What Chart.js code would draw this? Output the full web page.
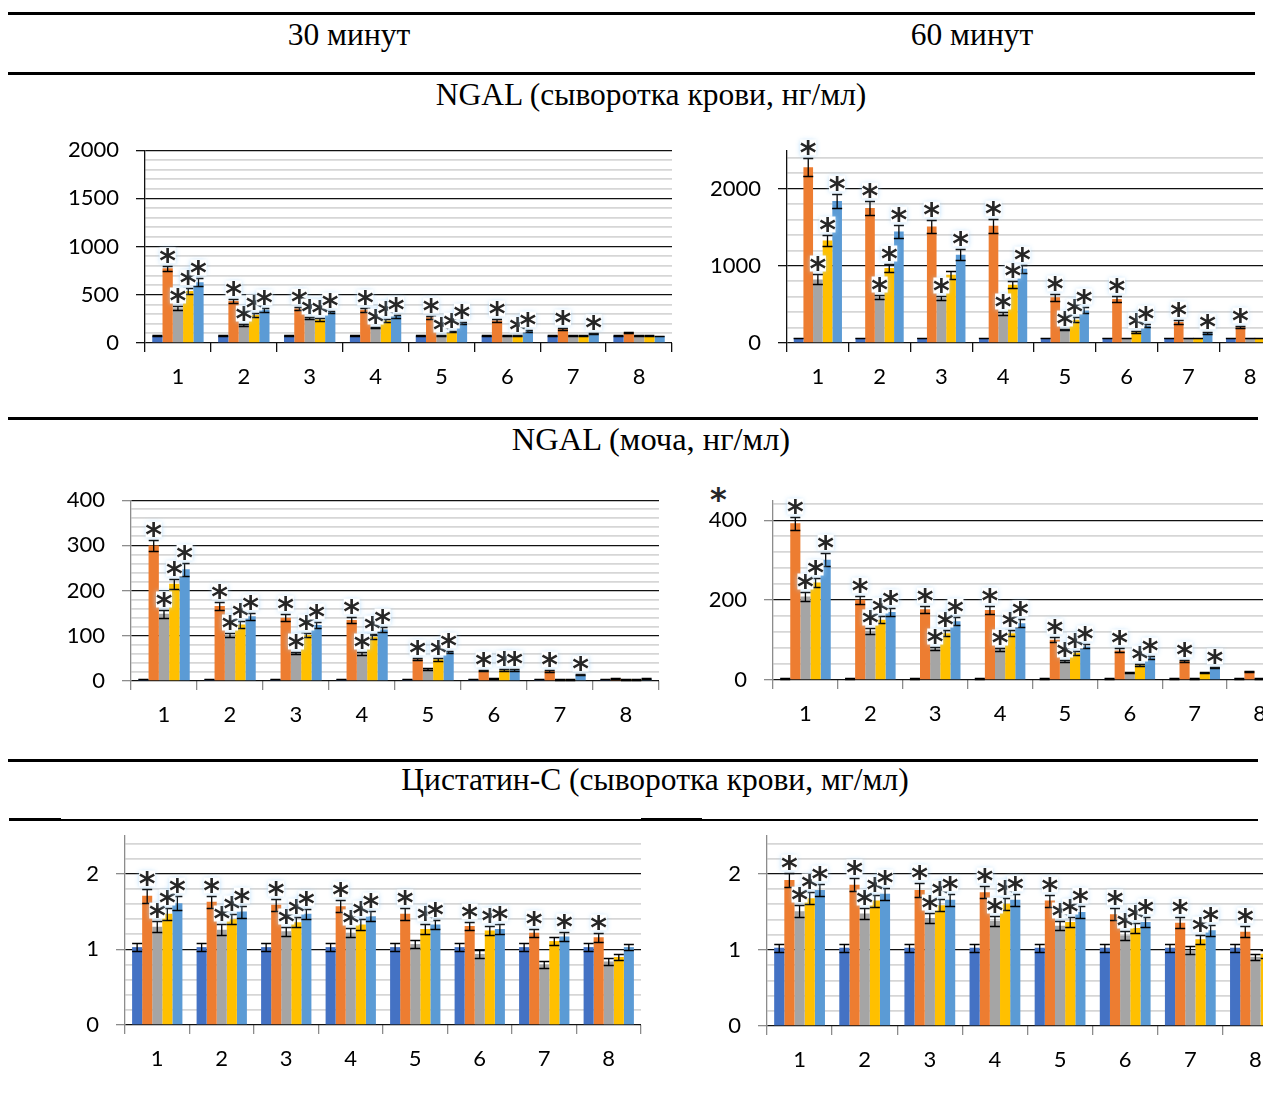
<!DOCTYPE html>
<html>
<head>
<meta charset="utf-8">
<script src="https://cdn.jsdelivr.net/npm/chart.js@4/dist/chart.umd.min.js"></script>
<style>
  body { margin: 0; width: 1263px; height: 1097px; overflow: hidden; background: #fff; position: relative; font-family: 'Liberation Serif', serif; }
  .hl { position: absolute; background: #000; }
  .ttl { position: absolute; font-size: 31.5px; line-height: 1; white-space: nowrap; transform: translate(-50%, -50%); color: #000; }
  canvas { position: absolute; }
  .star { position: absolute; font: bold 32px 'DejaVu Sans'; color: #262626; }
</style>
</head>
<body>
<div class="hl" style="left:8px;top:12px;width:1247px;height:3px"></div>
<div class="hl" style="left:8px;top:72px;width:1247px;height:3px"></div>
<div class="hl" style="left:8px;top:417px;width:1250px;height:3px"></div>
<div class="hl" style="left:8px;top:759px;width:1250px;height:3px"></div>
<div class="hl" style="left:9px;top:818px;width:52px;height:3px"></div>
<div class="hl" style="left:61px;top:819px;width:580px;height:2px"></div>
<div class="hl" style="left:641px;top:818px;width:61px;height:3px"></div>
<div class="hl" style="left:702px;top:819px;width:556px;height:2px"></div>

<div class="ttl" style="left:349px;top:35px">30 минут</div>
<div class="ttl" style="left:972px;top:35px">60 минут</div>
<div class="ttl" style="left:651px;top:95px">NGAL (сыворотка крови, нг/мл)</div>
<div class="ttl" style="left:651px;top:439px;font-size:32.5px">NGAL (моча, нг/мл)</div>
<div class="ttl" style="left:655px;top:780px">Цистатин-С (сыворотка крови, мг/мл)</div>
<div class="star" style="left:710px;top:480px">*</div>

<canvas id="c1"></canvas>
<canvas id="c2"></canvas>
<canvas id="c3"></canvas>
<canvas id="c4"></canvas>
<canvas id="c5"></canvas>
<canvas id="c6"></canvas>

<script>
const categories = ['1', '2', '3', '4', '5', '6', '7', '8'];

// NGAL, serum, 30 min (ng/ml) — one row per series
const ngalSerum30 = [
  [75, 75, 75, 75, 75, 75, 75, 75],
  [775, 435, 358, 345, 268, 234, 148, 108],
  [360, 186, 258, 159, 82, 78, 76, 74],
  [540, 290, 245, 234, 121, 76, 76, 78],
  [630, 345, 322, 279, 212, 125, 100, 72]
];
const ngalSerum30Err = [
  [6, 6, 6, 6, 6, 6, 6, 6],
  [25, 22, 12, 20, 15, 12, 8, 6],
  [22, 8, 12, 8, 6, 5, 5, 4],
  [30, 18, 18, 12, 8, 5, 5, 4],
  [40, 20, 15, 15, 10, 8, 6, 4]
];
const ngalSerum30Stars = [
  [0, 0, 0, 0, 0, 0, 0, 0],
  [1, 1, 1, 1, 1, 1, 1, 0],
  [1, 1, 1, 1, 1, 0, 0, 0],
  [1, 1, 1, 1, 1, 1, 0, 0],
  [1, 1, 1, 1, 1, 1, 1, 0]
];

// NGAL, serum, 60 min
const ngalSerum60 = [
  [65, 65, 65, 65, 65, 65, 65, 65],
  [2280, 1750, 1510, 1520, 592, 570, 272, 203],
  [825, 596, 583, 380, 177, 65, 65, 65],
  [1330, 972, 886, 756, 302, 138, 65, 65],
  [1840, 1447, 1145, 963, 423, 225, 130, 65]
];
const ngalSerum60Err = [
  [5, 5, 5, 5, 5, 5, 5, 5],
  [117, 90, 85, 90, 45, 40, 20, 12],
  [65, 30, 30, 20, 10, 5, 5, 5],
  [70, 50, 50, 45, 30, 12, 5, 5],
  [95, 80, 70, 50, 40, 15, 10, 5]
];
const ngalSerum60Stars = [
  [0, 0, 0, 0, 0, 0, 0, 0],
  [1, 1, 1, 1, 1, 1, 1, 1],
  [1, 1, 1, 1, 1, 0, 0, 0],
  [1, 1, 0, 1, 1, 1, 0, 0],
  [1, 1, 1, 1, 1, 1, 1, 0]
];

// NGAL, urine, 30 min
const ngalUrine30 = [
  [4, 4, 4, 4, 4, 4, 4, 4],
  [300, 166, 140, 135, 48, 23, 22, 6],
  [149, 102, 62, 61, 27, 6, 4, 4],
  [215, 125, 102, 98, 48, 24, 4, 4],
  [247, 143, 124, 114, 64, 24, 14, 5]
];
const ngalUrine30Err = [
  [0.5, 0.5, 0.5, 0.5, 0.5, 0.5, 0.5, 0.5],
  [13, 9, 8, 6, 2, 1.5, 1.5, 1],
  [9, 5, 3, 3, 2, 1, 1, 1],
  [11, 7, 5, 5, 3, 1.5, 1, 1],
  [14, 8, 7, 6, 3, 1.5, 1.5, 1]
];
const ngalUrine30Stars = [
  [0, 0, 0, 0, 0, 0, 0, 0],
  [1, 1, 1, 1, 1, 1, 1, 0],
  [1, 1, 1, 1, 0, 0, 0, 0],
  [1, 1, 1, 1, 1, 1, 0, 0],
  [1, 1, 1, 1, 1, 1, 1, 0]
];

// NGAL, urine, 60 min
const ngalUrine60 = [
  [4, 4, 4, 4, 4, 4, 4, 4],
  [392, 201, 177, 175, 101, 74, 48, 22],
  [209, 123, 78, 77, 47, 19, 4, 4],
  [244, 151, 117, 117, 68, 37, 18, 4],
  [301, 170, 147, 142, 84, 56, 31, 4]
];
const ngalUrine60Err = [
  [0.5, 0.5, 0.5, 0.5, 0.5, 0.5, 0.5, 0.5],
  [17, 10, 9, 10, 6, 5, 2, 1.5],
  [12, 8, 4, 4, 2, 1.5, 1, 1],
  [11, 9, 8, 8, 5, 2, 1.5, 1],
  [16, 10, 10, 10, 5, 3, 2, 1]
];
const ngalUrine60Stars = [
  [0, 0, 0, 0, 0, 0, 0, 0],
  [1, 1, 1, 1, 1, 1, 1, 0],
  [1, 1, 1, 1, 1, 0, 0, 0],
  [1, 1, 1, 1, 1, 1, 0, 0],
  [1, 1, 1, 1, 1, 1, 1, 0]
];

// Cystatin C, serum, 30 min (mg/ml)
const cysSerum30 = [
  [1.03, 1.03, 1.03, 1.03, 1.03, 1.03, 1.03, 1.03],
  [1.71, 1.63, 1.59, 1.57, 1.47, 1.31, 1.22, 1.16],
  [1.30, 1.26, 1.24, 1.22, 1.07, 0.94, 0.80, 0.84],
  [1.47, 1.40, 1.36, 1.33, 1.27, 1.25, 1.11, 0.90],
  [1.61, 1.50, 1.47, 1.44, 1.33, 1.27, 1.17, 1.03]
];
const cysSerum30Err = [
  [0.05, 0.05, 0.05, 0.05, 0.05, 0.05, 0.05, 0.05],
  [0.09, 0.08, 0.08, 0.08, 0.08, 0.05, 0.05, 0.06],
  [0.07, 0.07, 0.06, 0.06, 0.05, 0.05, 0.04, 0.04],
  [0.08, 0.07, 0.07, 0.07, 0.06, 0.06, 0.05, 0.04],
  [0.09, 0.08, 0.07, 0.07, 0.06, 0.06, 0.06, 0.04]
];
const cysSerum30Stars = [
  [0, 0, 0, 0, 0, 0, 0, 0],
  [1, 1, 1, 1, 1, 1, 1, 1],
  [1, 1, 1, 1, 0, 0, 0, 0],
  [1, 1, 1, 1, 1, 1, 0, 0],
  [1, 1, 1, 1, 1, 1, 1, 0]
];

// Cystatin C, serum, 60 min
const cysSerum60 = [
  [1.03, 1.03, 1.03, 1.03, 1.03, 1.03, 1.03, 1.03],
  [1.92, 1.86, 1.79, 1.76, 1.65, 1.47, 1.36, 1.24],
  [1.51, 1.48, 1.42, 1.38, 1.32, 1.19, 1.00, 0.91],
  [1.68, 1.65, 1.59, 1.61, 1.37, 1.29, 1.14, 0.95],
  [1.79, 1.74, 1.66, 1.66, 1.50, 1.37, 1.26, 1.05]
];
const cysSerum60Err = [
  [0.05, 0.05, 0.05, 0.05, 0.05, 0.05, 0.05, 0.05],
  [0.09, 0.09, 0.09, 0.08, 0.08, 0.08, 0.07, 0.07],
  [0.08, 0.07, 0.07, 0.07, 0.06, 0.06, 0.05, 0.04],
  [0.08, 0.08, 0.08, 0.08, 0.07, 0.07, 0.06, 0.05],
  [0.08, 0.08, 0.08, 0.08, 0.08, 0.07, 0.07, 0.05]
];
const cysSerum60Stars = [
  [0, 0, 0, 0, 0, 0, 0, 0],
  [1, 1, 1, 1, 1, 1, 1, 1],
  [1, 1, 1, 1, 1, 1, 0, 0],
  [1, 1, 1, 1, 1, 1, 1, 0],
  [1, 1, 1, 1, 1, 1, 1, 0]
];

const seriesColors = ['#4472C4', '#ED7D31', '#A5A5A5', '#FFC000', '#5B9BD5'];
const tickFont = { family: 'Lato', size: 22 };

// draws the I-shaped error bars and the significance asterisks
const errorBars = {
  id: 'errorBars',
  afterDatasetsDraw(chart) {
    const ctx = chart.ctx;
    const y = chart.scales.y;
    const marks = [];
    ctx.save();
    ctx.strokeStyle = '#000';
    ctx.lineWidth = 1.3;
    chart.data.datasets.forEach((ds, i) => {
      chart.getDatasetMeta(i).data.forEach((bar, j) => {
        const v = ds.data[j], e = ds.err[j];
        const top = Math.round(y.getPixelForValue(v + e)) + 0.5;
        const bot = Math.round(y.getPixelForValue(Math.max(0, v - e))) + 0.5;
        const hw = 5;
        ctx.beginPath();
        ctx.moveTo(bar.x, top); ctx.lineTo(bar.x, bot);
        ctx.moveTo(bar.x - hw, top); ctx.lineTo(bar.x + hw, top);
        ctx.moveTo(bar.x - hw, bot); ctx.lineTo(bar.x + hw, bot);
        ctx.stroke();
        if (ds.stars[j]) marks.push([bar.x, top]);
      });
    });
    ctx.font = 'bold 32px "DejaVu Sans"';
    ctx.textAlign = 'center';
    ctx.textBaseline = 'alphabetic';
    const m = ctx.measureText('*');
    const shift = (m.actualBoundingBoxDescent - m.actualBoundingBoxAscent) / 2;
    marks.forEach(([x, top]) => {
      const cy = top - 11;
      ctx.shadowColor = 'rgba(170,215,250,0.9)';
      ctx.shadowBlur = 5;
      ctx.fillStyle = '#fff';
      ctx.fillRect(x - 8, cy - 8, 16, 16);
      ctx.shadowBlur = 0;
      ctx.shadowColor = 'rgba(0,0,0,0)';
      ctx.fillStyle = '#262626';
      ctx.fillText('*', x, cy - shift);
    });
    ctx.restore();
  }
};

function buildChart(id, box, vals, errs, stars, ys) {
  const canvas = document.getElementById(id);
  canvas.width = box.w;
  canvas.height = box.h;
  canvas.style.left = box.x + 'px';
  canvas.style.top = box.y + 'px';
  const kind = v => {
    const k = Math.round(v / ys.step);
    if (k % ys.major === 0) return 'major';
    if (k % ys.minor === 0) return 'minor';
    return 'none';
  };
  return new Chart(canvas, {
    type: 'bar',
    data: {
      labels: categories,
      datasets: vals.map((d, i) => ({
        data: d,
        err: errs[i],
        stars: stars[i],
        backgroundColor: seriesColors[i],
        categoryPercentage: 0.78,
        barPercentage: 1.0
      }))
    },
    options: {
      responsive: false,
      animation: false,
      devicePixelRatio: 1,
      layout: { padding: { top: box.padTop, right: box.padRight, left: 0, bottom: 0 } },
      plugins: { legend: { display: false }, tooltip: { enabled: false } },
      scales: {
        x: {
          offset: true,
          grid: { offset: true, drawOnChartArea: false, tickLength: 9, color: box.axis, lineWidth: 1.3 },
          border: { display: false },
          ticks: { font: tickFont, color: '#000', padding: 12, maxRotation: 0 },
          afterFit: s => { s.height = box.xh; }
        },
        y: {
          min: 0,
          max: ys.max,
          ticks: {
            stepSize: ys.step,
            autoSkip: false,
            font: tickFont,
            color: '#000',
            padding: 17,
            callback: v => kind(v) === 'major' ? String(Math.round(v * 100) / 100) : ''
          },
          grid: {
            tickLength: 9,
            color: c => {
              const t = kind(c.tick.value);
              return t === 'major' ? '#111' : t === 'minor' ? '#d6d6d6' : 'rgba(0,0,0,0)';
            },
            lineWidth: c => kind(c.tick.value) === 'minor' ? 1.8 : 1.3,
            tickColor: c => kind(c.tick.value) === 'major' ? box.axis : 'rgba(0,0,0,0)'
          },
          border: { color: box.axis, width: 1.3 },
          afterFit: s => { s.width = box.yw; }
        }
      }
    },
    plugins: [errorBars]
  });
}

buildChart('c1', { x: 0, y: 120, w: 690, h: 280, yw: 145, padTop: 28, padRight: 18, xh: 57, axis: '#111' },
  ngalSerum30, ngalSerum30Err, ngalSerum30Stars, { max: 2000, step: 100, minor: 1, major: 5 });
buildChart('c2', { x: 640, y: 120, w: 660, h: 280, yw: 147, padTop: 28, padRight: 19, xh: 57, axis: '#111' },
  ngalSerum60, ngalSerum60Err, ngalSerum60Stars, { max: 2500, step: 100, minor: 2, major: 10 });
buildChart('c3', { x: 0, y: 470, w: 680, h: 280, yw: 131, padTop: 27, padRight: 21, xh: 69, axis: '#8c8c8c' },
  ngalUrine30, ngalUrine30Err, ngalUrine30Stars, { max: 400, step: 20, minor: 1, major: 5 });
buildChart('c4', { x: 640, y: 470, w: 660, h: 280, yw: 133, padTop: 23, padRight: 8, xh: 70, axis: '#8c8c8c' },
  ngalUrine60, ngalUrine60Err, ngalUrine60Stars, { max: 450, step: 10, minor: 4, major: 20 });
buildChart('c5', { x: 0, y: 800, w: 660, h: 297, yw: 125, padTop: 36, padRight: 19, xh: 72, axis: '#8c8c8c' },
  cysSerum30, cysSerum30Err, cysSerum30Stars, { max: 2.5, step: 0.1, minor: 2, major: 10 });
buildChart('c6', { x: 640, y: 800, w: 660, h: 297, yw: 127, padTop: 36, padRight: 12, xh: 71, axis: '#8c8c8c' },
  cysSerum60, cysSerum60Err, cysSerum60Stars, { max: 2.5, step: 0.1, minor: 2, major: 10 });
</script>
</body>
</html>
